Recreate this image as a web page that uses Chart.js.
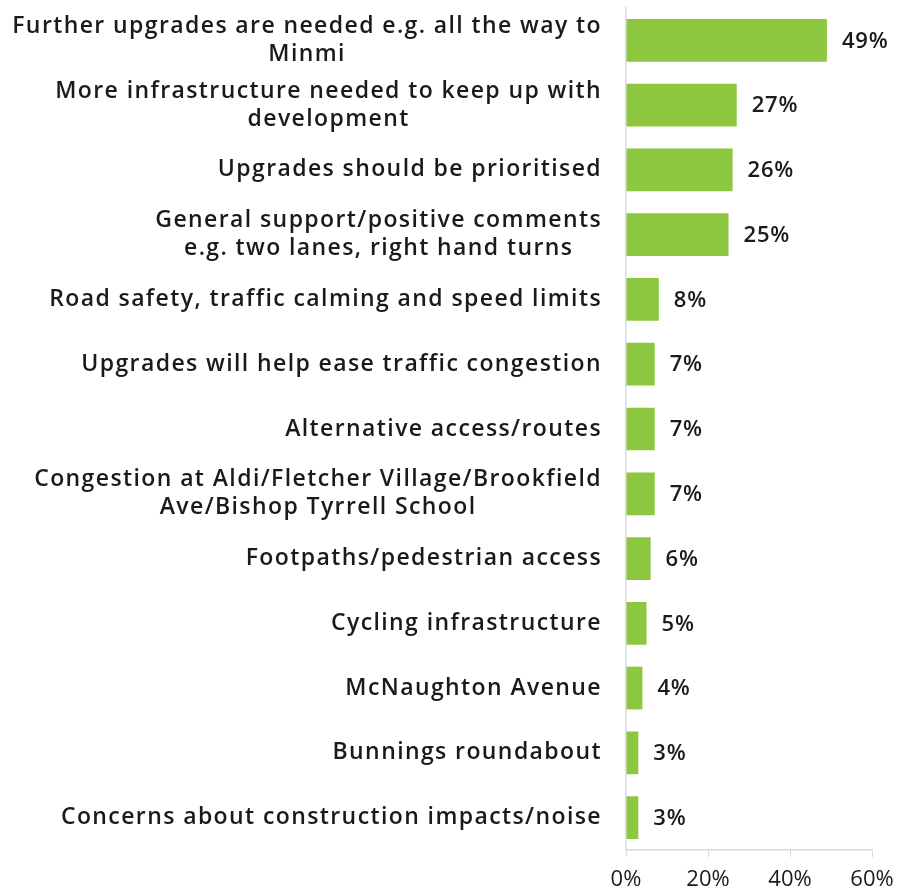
<!DOCTYPE html>
<html>
<head>
<meta charset="utf-8">
<script src="https://cdn.jsdelivr.net/npm/chart.js@4/dist/chart.umd.min.js"></script>
<style>
  html, body { margin: 0; padding: 0; background: #fff; }
  #wrap { width: 910px; height: 890px; }
</style>
</head>
<body>
<div id="wrap"><canvas id="myChart" width="910" height="890"></canvas></div>
<script>
// categories (multi line ones are split where the reference wraps them)
const categories = [
  ["Further upgrades are needed e.g. all the way to", "Minmi"],
  ["More infrastructure needed to keep up with", "development"],
  ["Upgrades should be prioritised"],
  ["General support/positive comments", "e.g. two lanes, right hand turns"],
  ["Road safety, traffic calming and speed limits"],
  ["Upgrades will help ease traffic congestion"],
  ["Alternative access/routes"],
  ["Congestion at Aldi/Fletcher Village/Brookfield", "Ave/Bishop Tyrrell School"],
  ["Footpaths/pedestrian access"],
  ["Cycling infrastructure"],
  ["McNaughton Avenue"],
  ["Bunnings roundabout"],
  ["Concerns about construction impacts/noise"]
];
const values = [49, 27, 26, 25, 8, 7, 7, 7, 6, 5, 4, 3, 3];
const xTicks = [0, 20, 40, 60];

const FONT = "'Open Sans', Lato, sans-serif";

// left labels: block right aligned, lines centred inside the block
const catLabels = {
  id: 'catLabels',
  afterDraw(chart){
    const ctx = chart.ctx;
    const y = chart.scales.y;
    ctx.save();
    ctx.font = "600 23px " + FONT;
    ctx.letterSpacing = '1.4px';
    ctx.fillStyle = '#1a1a1a';
    ctx.textAlign = 'center';
    ctx.textBaseline = 'middle';
    const right = chart.chartArea.left - 24;
    const lh = 28;
    categories.forEach(function(lines, i){
      let w = 0;
      lines.forEach(function(l){ w = Math.max(w, ctx.measureText(l).width); });
      const cx = right - w / 2;
      const cy = y.getPixelForValue(i) - (lines.length - 1) * lh / 2;
      lines.forEach(function(l, k){ ctx.fillText(l, cx, cy + k * lh); });
    });
    ctx.restore();
  }
};

// value labels at the end of each bar
const valueLabels = {
  id: 'valueLabels',
  afterDatasetsDraw(chart){
    const ctx = chart.ctx;
    const meta = chart.getDatasetMeta(0);
    ctx.save();
    ctx.font = "600 22px " + FONT;
    ctx.letterSpacing = '0.8px';
    ctx.fillStyle = '#1a1a1a';
    ctx.textAlign = 'left';
    ctx.textBaseline = 'middle';
    meta.data.forEach(function(bar, i){
      ctx.fillText(values[i] + '%', bar.x + 15, bar.y + 1);
    });
    ctx.restore();
  }
};

const data = {
  labels: categories.map(function(c){ return c.join(' '); }),
  datasets: [{
    data: values,
    backgroundColor: '#8DC63F',
    borderWidth: 0,
    categoryPercentage: 1,
    barPercentage: 0.66
  }]
};

const config = {
  type: 'bar',
  data: data,
  options: {
    indexAxis: 'y',
    responsive: false,
    animation: false,
    layout: { padding: { top: 8, right: 38, left: 0, bottom: 0 } },
    plugins: { legend: { display: false }, tooltip: { enabled: false } },
    scales: {
      x: {
        min: 0, max: 60,
        afterBuildTicks(scale){ scale.ticks = xTicks.map(function(v){ return { value: v }; }); },
        afterFit(scale){ scale.height = 40; },
        ticks: {
          color: '#1a1a1a',
          font: { family: FONT, size: 22 },
          padding: 10,
          maxRotation: 0,
          callback: function(v){ return v + '%'; }
        },
        grid: { drawOnChartArea: false, drawTicks: true, tickLength: 7, color: '#d9d9d9' },
        border: { display: true, color: '#d9d9d9', width: 1.5 }
      },
      y: {
        afterFit(scale){ scale.width = 626; },
        ticks: { display: false },
        grid: { drawOnChartArea: false, drawTicks: false, color: '#d6dce5' },
        border: { display: true, color: '#d6dce5', width: 1.5 }
      }
    }
  },
  plugins: [catLabels, valueLabels]
};

let myChart = new Chart(document.getElementById('myChart'), config);
</script>
</body>
</html>
